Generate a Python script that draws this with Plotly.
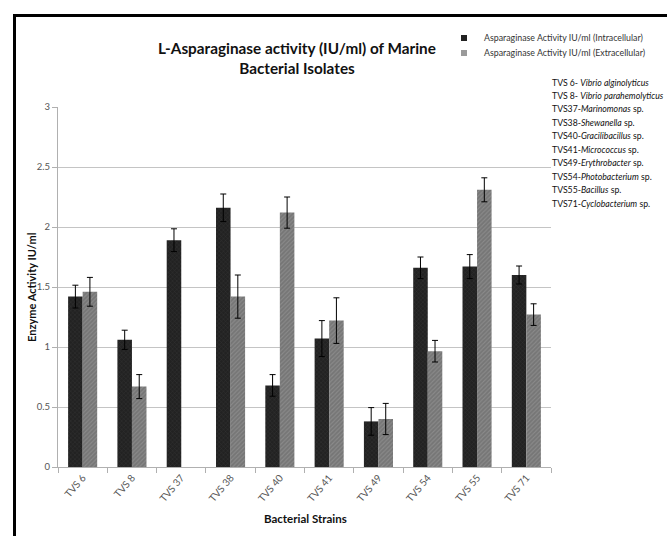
import plotly.graph_objects as go

categories = ["TVS 6", "TVS 8", "TVS 37", "TVS 38", "TVS 40", "TVS 41", "TVS 49", "TVS 54", "TVS 55", "TVS 71"]
intra = [1.42, 1.06, 1.89, 2.16, 0.68, 1.07, 0.38, 1.66, 1.67, 1.60]
intra_err = [0.095, 0.08, 0.095, 0.115, 0.09, 0.15, 0.115, 0.09, 0.10, 0.075]
extra = [1.46, 0.67, None, 1.42, 2.12, 1.22, 0.40, 0.965, 2.31, 1.27]
extra_err = [0.12, 0.10, None, 0.18, 0.13, 0.19, 0.13, 0.09, 0.10, 0.09]

series_names = ["Asparaginase Activity IU/ml (Intracellular)",
                "Asparaginase Activity IU/ml (Extracellular)"]

species = [
    ("TVS 6- ", "Vibrio alginolyticus", ""),
    ("TVS 8- ", "Vibrio parahemolyticus", ""),
    ("TVS37-", "Marinomonas", " sp."),
    ("TVS38-", "Shewanella", " sp."),
    ("TVS40-", "Gracilibacillus", " sp."),
    ("TVS41-", "Micrococcus", " sp."),
    ("TVS49-", "Erythrobacter", " sp."),
    ("TVS54-", "Photobacterium", " sp."),
    ("TVS55-", "Bacillus", " sp."),
    ("TVS71-", "Cyclobacterium", " sp."),
]

W, H = 667, 536
L, R, T, B = 58, 551, 107, 467
pw, ph = R - L, B - T


def px(x):
    return (x - L) / pw


def py(y):
    return (B - y) / ph


FONT = "Lato"
fig = go.Figure()

fig.add_trace(go.Bar(
    x=categories, y=intra, name=series_names[0], showlegend=False,
    marker=dict(color="#222222", line=dict(width=0),
                pattern=dict(shape="x", fgcolor="#484848", size=3, solidity=0.25)),
    error_y=dict(type="data", array=intra_err, color="#000000", thickness=1, width=3),
))
fig.add_trace(go.Bar(
    x=categories, y=extra, name=series_names[1], showlegend=False,
    marker=dict(color="#767676", line=dict(width=0),
                pattern=dict(shape="/", fgcolor="#a0a0a0", size=3, solidity=0.35)),
    error_y=dict(type="data", array=extra_err, color="#000000", thickness=1, width=3),
))

# legend entries
fig.add_trace(go.Scatter(x=[None], y=[None], mode="markers", name=series_names[0],
                         marker=dict(symbol="square", size=6, color="#222222"),
                         legend="legend", hoverinfo="skip"))
fig.add_trace(go.Scatter(x=[None], y=[None], mode="markers", name=series_names[1],
                         marker=dict(symbol="square", size=6, color="#9a9a9a"),
                         legend="legend2", hoverinfo="skip"))

legend_common = dict(xanchor="left", yanchor="middle", bgcolor="rgba(0,0,0,0)",
                     font=dict(family=FONT, size=8.8, color="#333333"),
                     itemwidth=30, borderwidth=0)
annotations = [
    dict(text="<b>Enzyme Activity IU/ml</b>", x=px(31), y=py(287), xref="paper", yref="paper",
         showarrow=False, textangle=-90, xanchor="center", yanchor="middle",
         font=dict(family=FONT, size=11, color="#111111")),
    dict(text="<b>Bacterial Strains</b>", x=px(305), y=py(518), xref="paper", yref="paper",
         showarrow=False, xanchor="center", yanchor="middle",
         font=dict(family=FONT, size=11.5, color="#111111")),
]
for i, (a, b, c) in enumerate(species):
    annotations.append(dict(
        text=f"{a}<i>{b}</i>{c}", x=px(550), y=py(82 + 13.45 * i), xref="paper", yref="paper",
        showarrow=False, xanchor="left", yanchor="middle",
        font=dict(family=FONT, size=8.7, color="#111111")))

fig.update_layout(
    width=W, height=H,
    margin=dict(l=L, r=W - R, t=T, b=H - B),
    paper_bgcolor="white", plot_bgcolor="white",
    barmode="group", bargap=0.41, bargroupgap=0,
    title=dict(text="<b>L-Asparaginase activity (IU/ml) of Marine<br>Bacterial Isolates</b>",
               x=px(297), xanchor="center", xref="paper", y=1 - 54 / H, yanchor="middle",
               font=dict(family=FONT, size=15.3, color="#111111")),
    legend=dict(x=px(444), y=py(38), **legend_common),
    legend2=dict(x=px(444), y=py(53), **legend_common),
    annotations=annotations,
    shapes=[dict(type="rect", xref="paper", yref="paper",
                 x0=px(14.5), x1=px(700), y0=py(15.5), y1=py(560),
                 line=dict(color="black", width=3), fillcolor="rgba(0,0,0,0)", layer="above")],
    xaxis=dict(type="category", showline=True, linecolor="#b0b0b0", linewidth=1,
               ticks="outside", tickson="boundaries", ticklen=5, tickcolor="#b0b0b0",
               tickangle=-50, tickfont=dict(family=FONT, size=10, color="#555555"),
               showgrid=False, fixedrange=True),
    yaxis=dict(range=[0, 3], dtick=0.5, showline=True, linecolor="#b0b0b0", linewidth=1,
               ticks="outside", ticklen=5, tickcolor="#b0b0b0",
               tickfont=dict(family=FONT, size=9.5, color="#555555"),
               showgrid=True, gridcolor="#c4c4c4", gridwidth=1, zeroline=False,
               fixedrange=True),
)

fig.write_html("out.html", config={"displayModeBar": False},
               post_script="document.body.style.margin='0';")
